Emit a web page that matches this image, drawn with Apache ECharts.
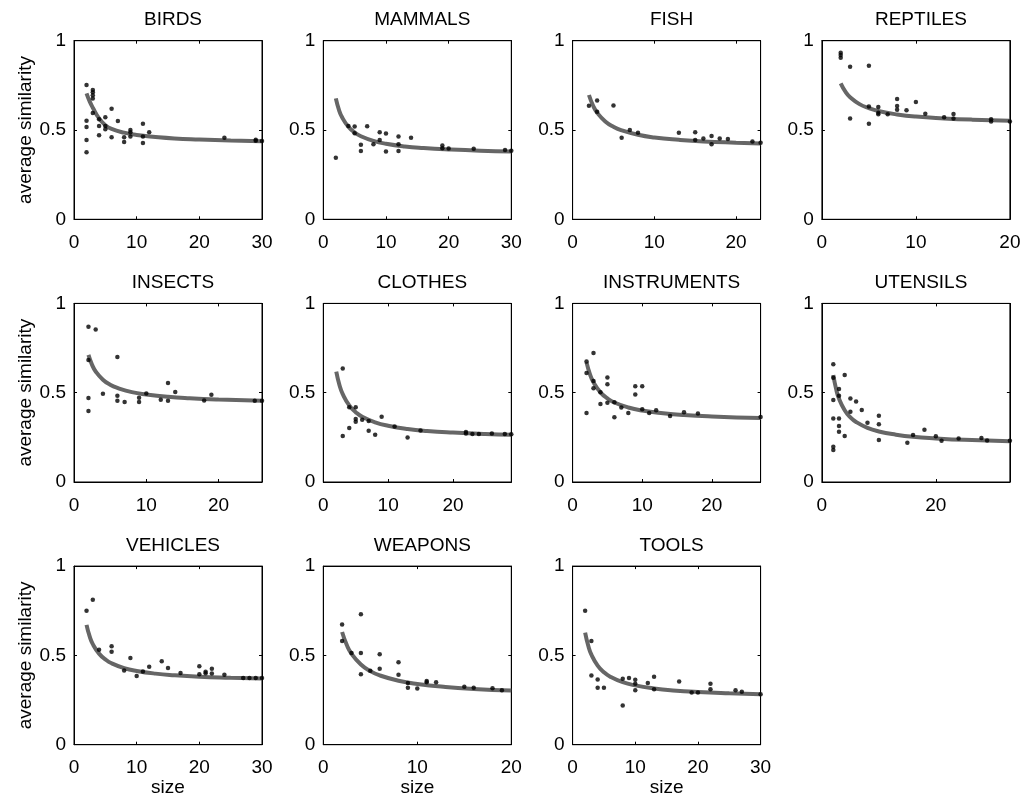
<!DOCTYPE html>
<html>
<head>
<meta charset="utf-8">
<script src="https://cdn.jsdelivr.net/npm/echarts@6/dist/echarts.min.js"></script>
<style>
  html, body { margin: 0; padding: 0; background: #fff; }
  #main { width: 1025px; height: 800px; }
</style>
</head>
<body>
<div id="main"></div>
<script>
// panel titles and x ranges
const panelNames = ['BIRDS', 'MAMMALS', 'FISH', 'REPTILES', 'INSECTS', 'CLOTHES',
  'INSTRUMENTS', 'UTENSILS', 'VEHICLES', 'WEAPONS', 'TOOLS'];
const panelXMax = [30, 30, 23, 20, 26, 29, 27, 33, 30, 20, 30];
const panelXStep = [10, 10, 10, 10, 10, 10, 10, 20, 10, 10, 10];
const yTickLabels = ['0', '0.5', '1'];

// observed points [size, average similarity]
const birdsPts = [[2,0.752],[2,0.552],[2,0.517],[2,0.444],[2,0.375],[3,0.724],[3,0.711],[3,0.694],[3,0.677],[3,0.595],
  [4,0.56],[4,0.522],[4,0.47],[5,0.571],[5,0.522],[5,0.504],[6,0.619],[6,0.459],[7,0.55],[8,0.459],[8,0.433],
  [9,0.5],[9,0.487],[9,0.463],[11,0.535],[11,0.463],[11,0.427],[12,0.487],[24,0.456],[29,0.44],[29,0.445],[30,0.438]];
const mammalsPts = [[2,0.344],[4,0.522],[5,0.52],[5,0.482],[6,0.418],[6,0.383],[7,0.521],[8,0.42],[9,0.488],[9,0.444],
  [10,0.48],[10,0.38],[12,0.464],[12,0.42],[12,0.383],[14,0.457],[19,0.413],[19,0.398],[20,0.396],[24,0.395],[29,0.388],[30,0.384]];
const fishPts = [[2,0.636],[3,0.665],[3,0.602],[5,0.637],[6,0.457],[7,0.5],[8,0.484],[13,0.484],[15,0.488],[15,0.444],
  [16,0.453],[17,0.466],[17,0.42],[18,0.453],[19,0.449],[22,0.436],[23,0.429]];
const reptilesPts = [[2,0.933],[2,0.92],[2,0.905],[3,0.854],[3,0.565],[5,0.86],[5,0.632],[5,0.535],[6,0.629],[6,0.597],
  [6,0.588],[7,0.588],[8,0.673],[8,0.634],[8,0.614],[9,0.61],[10,0.657],[11,0.591],[13,0.571],[14,0.59],[14,0.565],
  [18,0.56],[18,0.547],[20,0.548]];
const insectsPts = [[2,0.869],[2,0.683],[2,0.47],[2,0.397],[3,0.854],[4,0.494],[6,0.7],[6,0.483],[6,0.455],[7,0.448],
  [9,0.472],[9,0.448],[10,0.496],[12,0.461],[13,0.554],[13,0.455],[14,0.504],[18,0.457],[19,0.488],[25,0.455],[26,0.455]];
const clothesPts = [[3,0.636],[3,0.258],[4,0.302],[4,0.419],[5,0.419],[5,0.353],[5,0.338],[6,0.349],[7,0.342],[7,0.287],
  [8,0.265],[9,0.366],[11,0.311],[13,0.249],[15,0.289],[22,0.28],[22,0.272],[23,0.269],[24,0.269],[26,0.272],[28,0.269],[29,0.267]];
const instrumentsPts = [[2,0.675],[2,0.611],[2,0.386],[3,0.722],[3,0.565],[3,0.525],[4,0.503],[4,0.437],[5,0.585],[5,0.547],
  [5,0.444],[6,0.446],[6,0.362],[7,0.417],[8,0.386],[9,0.536],[9,0.49],[10,0.536],[10,0.408],[11,0.386],[12,0.402],
  [14,0.369],[16,0.391],[18,0.384],[27,0.364]];
const utensilsPts = [[2,0.659],[2,0.584],[2,0.459],[2,0.356],[2,0.198],[2,0.179],[3,0.521],[3,0.483],[3,0.356],[3,0.313],
  [3,0.282],[4,0.599],[4,0.257],[5,0.468],[5,0.394],[6,0.451],[7,0.403],[8,0.332],[10,0.371],[10,0.323],[10,0.235],
  [15,0.22],[16,0.263],[18,0.293],[20,0.256],[21,0.231],[24,0.243],[28,0.246],[29,0.233],[33,0.231]];
const vehiclesPts = [[2,0.75],[3,0.812],[4,0.531],[6,0.551],[6,0.521],[8,0.415],[9,0.486],[10,0.384],[11,0.41],[12,0.436],
  [14,0.467],[15,0.43],[17,0.402],[20,0.439],[20,0.395],[21,0.408],[21,0.4],[22,0.425],[22,0.398],[24,0.391],
  [27,0.374],[28,0.374],[29,0.374],[30,0.374]];
const weaponsPts = [[2,0.673],[2,0.58],[3,0.513],[4,0.73],[4,0.513],[4,0.394],[5,0.414],[6,0.507],[6,0.425],[8,0.462],
  [8,0.392],[9,0.345],[9,0.319],[10,0.314],[11,0.356],[11,0.35],[12,0.35],[15,0.325],[16,0.319],[18,0.316],[19,0.305]];
const toolsPts = [[2,0.75],[3,0.58],[3,0.387],[4,0.365],[4,0.319],[5,0.319],[8,0.219],[8,0.369],[9,0.374],[10,0.363],
  [10,0.341],[10,0.305],[12,0.345],[13,0.381],[13,0.31],[17,0.354],[19,0.292],[20,0.292],[22,0.341],[22,0.31],
  [26,0.305],[27,0.296],[30,0.283]];

// fitted curves
const birdsFit = [[2,0.705],[2.5,0.66],[3,0.625],[4,0.565],[5,0.527],[6,0.506],[8,0.485],[10,0.472],[13,0.461],[16,0.453],[20,0.447],[25,0.441],[30,0.437]];
const mammalsFit = [[2,0.677],[2.5,0.613],[3,0.571],[4,0.518],[5,0.486],[6,0.465],[8,0.439],[10,0.423],[13,0.408],[16,0.399],[20,0.391],[25,0.384],[30,0.38]];
const fishFit = [[2,0.696],[2.5,0.637],[3,0.597],[4,0.548],[5,0.518],[6,0.498],[8,0.473],[10,0.458],[13,0.445],[16,0.436],[20,0.429],[23,0.425]];
const reptilesFit = [[2,0.761],[2.5,0.715],[3,0.684],[4,0.645],[5,0.622],[6,0.606],[8,0.587],[10,0.575],[13,0.565],[16,0.558],[20,0.552]];
const insectsFit = [[2,0.712],[2.5,0.656],[3,0.619],[4,0.573],[5,0.545],[6,0.527],[8,0.503],[10,0.49],[13,0.477],[16,0.469],[20,0.462],[26,0.455]];
const clothesFit = [[2,0.618],[2.5,0.542],[3,0.492],[4,0.429],[5,0.391],[6,0.365],[8,0.334],[10,0.315],[13,0.297],[16,0.286],[20,0.277],[25,0.269],[29,0.265]];
const instrumentsFit = [[2,0.67],[2.5,0.603],[3,0.558],[4,0.502],[5,0.468],[6,0.445],[8,0.417],[10,0.4],[13,0.385],[16,0.375],[20,0.367],[27,0.358]];
const utensilsFit = [[2,0.599],[2.5,0.52],[3,0.467],[4,0.402],[5,0.362],[6,0.336],[8,0.303],[10,0.283],[13,0.265],[16,0.253],[20,0.244],[25,0.236],[33,0.228]];
const vehiclesFit = [[2,0.671],[2.5,0.606],[3,0.563],[4,0.51],[5,0.478],[6,0.456],[8,0.429],[10,0.413],[13,0.398],[16,0.389],[20,0.381],[25,0.375],[30,0.37]];
const weaponsFit = [[2,0.631],[2.5,0.558],[3,0.509],[4,0.449],[5,0.412],[6,0.388],[8,0.358],[10,0.34],[13,0.323],[16,0.312],[20,0.303]];
const toolsFit = [[2,0.628],[2.5,0.554],[3,0.504],[4,0.443],[5,0.406],[6,0.381],[8,0.35],[10,0.332],[13,0.315],[16,0.304],[20,0.295],[25,0.288],[30,0.283]];

const panelPts = [birdsPts, mammalsPts, fishPts, reptilesPts, insectsPts, clothesPts,
  instrumentsPts, utensilsPts, vehiclesPts, weaponsPts, toolsPts];
const panelFit = [birdsFit, mammalsFit, fishFit, reptilesFit, insectsFit, clothesFit,
  instrumentsFit, utensilsFit, vehiclesFit, weaponsFit, toolsFit];

const font = "'Liberation Sans', Arial, Helvetica, sans-serif";
const fs = 19;

function renderChart() {
  const chart = echarts.init(document.getElementById('main'));
  const title = [], grid = [], xAxis = [], yAxis = [], series = [];

  panelNames.forEach(function (name, i) {
    const col = i % 4, row = Math.floor(i / 4);
    const left = 74 + col * 249.3;
    const top = 40.7 + row * 262.7;
    const w = 188, h = 178.6;
    const step = panelXStep[i];
    const isBottom = row === 2;

    title.push({
      text: name, left: left + w / 2, top: top - 35, textAlign: 'center',
      textStyle: { fontFamily: font, fontSize: fs, fontWeight: 'normal', color: '#000' }
    });
    grid.push({ left: left, top: top, width: w, height: h, show: true, borderColor: '#000', borderWidth: 1 });

    const tick = { inside: true, length: 3, lineStyle: { color: '#000', width: 1 } };
    const line = { show: true, onZero: false, lineStyle: { color: '#000', width: 1 } };

    xAxis.push({
      gridIndex: i, type: 'value', min: 0, max: panelXMax[i], interval: step, position: 'bottom',
      axisLine: line, axisTick: tick, splitLine: { show: false },
      axisLabel: {
        color: '#000', fontFamily: font, fontSize: fs, margin: 14,
        formatter: function (v) { return v % step === 0 ? String(v) : ''; }
      },
      name: isBottom ? 'size' : '', nameLocation: 'middle', nameGap: 34,
      nameTextStyle: { color: '#000', fontFamily: font, fontSize: fs }
    });
    xAxis.push({
      gridIndex: i, type: 'value', min: 0, max: panelXMax[i], interval: step, position: 'top',
      axisLine: line, axisTick: tick, axisLabel: { show: false }, splitLine: { show: false }
    });
    yAxis.push({
      gridIndex: i, type: 'value', min: 0, max: 1, interval: 0.5, position: 'left',
      axisLine: line, axisTick: tick, splitLine: { show: false },
      axisLabel: {
        color: '#000', fontFamily: font, fontSize: fs, margin: 8,
        formatter: function (v) { return yTickLabels[Math.round(v * 2)]; }
      },
      name: col === 0 ? 'average similarity' : '', nameLocation: 'middle', nameGap: 38,
      nameTextStyle: { color: '#000', fontFamily: font, fontSize: fs }
    });
    yAxis.push({
      gridIndex: i, type: 'value', min: 0, max: 1, interval: 0.5, position: 'right',
      axisLine: line, axisTick: tick, axisLabel: { show: false }, splitLine: { show: false }
    });

    series.push({
      type: 'line', xAxisIndex: 2 * i, yAxisIndex: 2 * i, data: panelFit[i],
      smooth: true, showSymbol: false, silent: true, z: 2,
      lineStyle: { color: '#666666', width: 4 }
    });
    series.push({
      type: 'scatter', xAxisIndex: 2 * i, yAxisIndex: 2 * i, data: panelPts[i],
      symbol: 'circle', symbolSize: 4.5, z: 3,
      itemStyle: { color: '#000' }
    });
  });

  chart.setOption({
    animation: false,
    backgroundColor: '#fff',
    title: title, grid: grid, xAxis: xAxis, yAxis: yAxis, series: series
  }, true);
}
renderChart();
</script>
</body>
</html>
